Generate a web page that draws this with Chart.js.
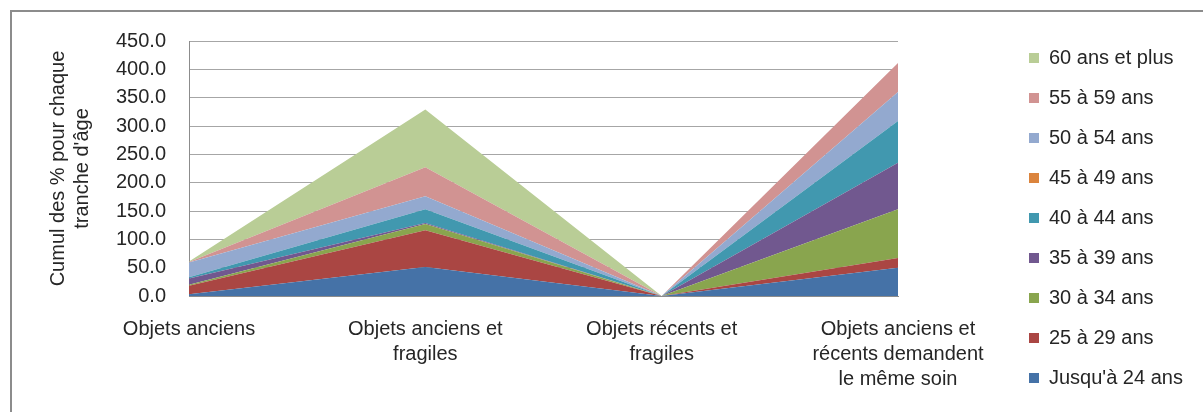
<!DOCTYPE html>
<html>
<head>
<meta charset="utf-8">
<script src="https://cdn.jsdelivr.net/npm/chart.js@4"></script>
<style>
html, body { margin: 0; padding: 0; background: #fff; overflow: hidden; }
#cadre { position: absolute; left: 10px; top: 10px; width: 1300px; height: 500px; border: 2px solid #8c8c8c; box-sizing: border-box; }
#zone { position: absolute; left: 0; top: 0; width: 1203px; height: 412px; }
</style>
</head>
<body>
<div id="cadre"></div>
<div id="zone"><canvas id="graphique"></canvas></div>
<script>
// categories de l'axe X
var categories = [
    'Objets anciens',
    ['Objets anciens et', 'fragiles'],
    ['Objets récents et', 'fragiles'],
    ['Objets anciens et', 'récents demandent', 'le même soin']
];

// valeurs par tranche d'age (en %)
var jusqua24 = [3, 51, 0, 50];
var de25a29 = [15, 65, 0, 17];
var de30a34 = [2, 11, 0, 86];
var de35a39 = [11, 2, 0, 82];
var de40a44 = [2, 24, 0, 74];
var de45a49 = [0, 0, 0, 0];
var de50a54 = [26, 23, 0, 51];
var de55a59 = [1, 51, 0, 51];
var plus60 = [1, 102, 0, 0];

var tranches = ["Jusqu'à 24 ans", '25 à 29 ans', '30 à 34 ans', '35 à 39 ans', '40 à 44 ans',
    '45 à 49 ans', '50 à 54 ans', '55 à 59 ans', '60 ans et plus'];
var series = [jusqua24, de25a29, de30a34, de35a39, de40a44, de45a49, de50a54, de55a59, plus60];
var couleurs = ['#4572A7', '#AA4643', '#89A54E', '#71588F', '#4198AF', '#DB843D', '#93A9CF', '#D19392', '#B9CD96'];

var graduations = [0, 50, 100, 150, 200, 250, 300, 350, 400, 450];

var police = { family: '"Liberation Sans", Arial, sans-serif', size: 20 };
var texte = '#262626';

var datasets = series.map(function (valeurs, i) {
    return {
        label: tranches[i],
        data: valeurs,
        backgroundColor: couleurs[i],
        borderColor: couleurs[i],
        borderWidth: 0,
        fill: i === 0 ? 'origin' : '-1',
        pointRadius: 0,
        tension: 0
    };
});

// la legende est collee a la zone de trace, on la pousse a droite
var decalageLegende = {
    id: 'decalageLegende',
    afterLayout: function (chart) {
        chart.legend.left += 111;
        chart.legend.right += 111;
    }
};

var ctx = document.getElementById('graphique').getContext('2d');

var graphique = new Chart(ctx, {
    type: 'line',
    data: { labels: categories, datasets: datasets },
    plugins: [decalageLegende],
    options: {
        responsive: true,
        maintainAspectRatio: false,
        animation: false,
        layout: { padding: { left: 20, top: 24, right: 0, bottom: 0 } },
        scales: {
            x: {
                grid: { display: false, drawTicks: false },
                border: { color: '#8c8c8c' },
                ticks: {
                    maxRotation: 0,
                    autoSkip: false,
                    padding: 21,
                    color: texte,
                    font: { family: police.family, size: 20, lineHeight: 1.25 }
                },
                afterFit: function (s) { s.paddingRight = 305; s.height = 116; }
            },
            y: {
                stacked: true,
                min: graduations[0],
                max: graduations[graduations.length - 1],
                grid: { color: '#a6a6a6', drawTicks: false },
                border: { color: '#8c8c8c' },
                ticks: {
                    stepSize: 50,
                    padding: 23,
                    color: texte,
                    font: police,
                    callback: function (v) { return v.toFixed(1); }
                },
                title: {
                    display: true,
                    text: ['Cumul des % pour chaque', "tranche d'âge"],
                    color: texte,
                    font: police,
                    padding: { top: 26, bottom: 0 }
                },
                afterFit: function (s) { s.width = 169; s.paddingTop = 41; }
            }
        },
        plugins: {
            legend: {
                position: 'right',
                reverse: true,
                labels: { boxWidth: 10, boxHeight: 10, padding: 20, color: texte, font: police }
            },
            tooltip: { enabled: false }
        }
    }
});
</script>
</body>
</html>
